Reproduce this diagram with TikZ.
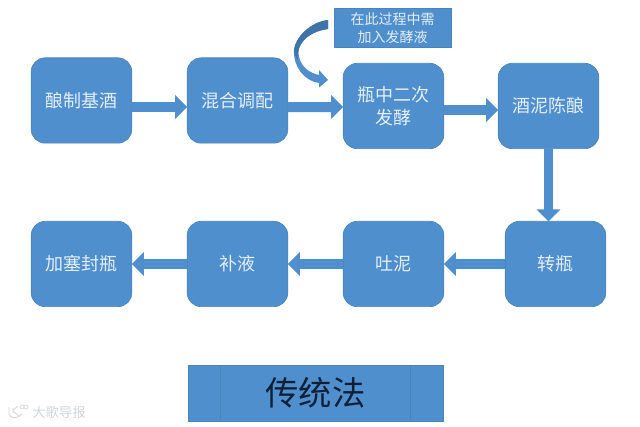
\documentclass[tikz,border=0pt]{standalone}
\usepackage{fontspec}
\setmainfont{Noto Sans CJK SC}
\usetikzlibrary{arrows.meta}
\definecolor{boxblue}{HTML}{4F8FCD}
\definecolor{boxedge}{HTML}{4A84BC}
\definecolor{arrowdark}{HTML}{3F74A8}
\definecolor{boxtext}{HTML}{E4EEF7}
\definecolor{titletext}{HTML}{0E2038}
\definecolor{markgrey}{HTML}{D2D5D8}
\tikzset{
  x=0.75pt,y=-0.75pt,
  stepbox/.style={draw=boxedge,fill=boxblue,rounded corners=10.5pt,line width=0.5pt,
    minimum width=75.5pt,minimum height=64pt,inner sep=0pt,outer sep=0pt,
    text=boxtext,font=\fontsize{13.5pt}{17pt}\selectfont,align=center},
  flowarrow/.style={draw=boxblue,line width=7.5pt,
    -{Triangle[length=9pt,width=17.5pt,fill=boxblue]}},
  thinarrow/.style={flowarrow,line width=7pt},
  notebox/.style={draw=boxedge,fill=boxblue,minimum width=87.5pt,minimum height=29pt,inner sep=0pt,
    text=boxtext,font=\fontsize{10.5pt}{13.5pt}\selectfont,align=center},
  titlebox/.style={draw=boxedge,fill=boxblue,minimum width=191pt,minimum height=42pt,inner sep=0pt,
    text=titletext,font=\fontsize{25pt}{28pt}\selectfont},
}
\begin{document}
\begin{tikzpicture}
\useasboundingbox (0,0) rectangle (640,427);
\fill[white] (0,0) rectangle (640,427);
\node[stepbox] (a1) at (81.5,100.5) {酿制基酒};
\node[stepbox] (a2) at (237.5,100.5) {混合调配};
\node[stepbox] (a3) at (393.5,106) {瓶中二次\\发酵};
\node[stepbox] (a4) at (548.5,106) {酒泥陈酿};
\node[stepbox] (b1) at (555.5,264) {转瓶};
\node[stepbox] (b2) at (393.5,264) {吐泥};
\node[stepbox] (b3) at (237.5,264) {补液};
\node[stepbox] (b4) at (81.5,264) {加塞封瓶};
\node[notebox] (note) at (392.5,28) {在此过程中需\\加入发酵液};
\node[titlebox] (title) at (315.5,393) {传统法};
\draw[boxedge] (220,365.5) -- (220,420.5) (410,365.5) -- (410,420.5);
\draw[flowarrow] ([yshift=-4.9pt]a1.east) -- ([yshift=-4.9pt]a2.west);
\draw[flowarrow] ([yshift=-4.9pt]a2.east) -- ([yshift=-0.75pt]a3.west);
\draw[flowarrow] ([yshift=-3pt]a3.east) -- ([yshift=-3pt]a4.west);
\draw[thinarrow] (a4.south) -- (a4.south |- b1.north);
\draw[thinarrow] (b1.west) -- (b2.east);
\draw[thinarrow] (b2.west) -- (b3.east);
\draw[thinarrow] (b3.west) -- (b4.east);
% curved arrow
\coordinate (bendtip) at (328,80);
\fill[boxblue] (328,29) .. controls (306,32) and (296,46) .. (299,57)
  .. controls (302,68) and (310,73) .. (319,75) -- (319,70) -- (bendtip)
  -- (319,87.5) -- (319,83) .. controls (304,81) and (293,66) .. (294,50)
  .. controls (295,38) and (310,22) .. (328,20) -- cycle;
\fill[arrowdark] (328,20) .. controls (310,22) and (295,38) .. (294,50)
  .. controls (295,55) and (296,58) .. (298,60)
  .. controls (295,46) and (306,32) .. (328,29) -- cycle;
\node[text=markgrey,font=\fontsize{10pt}{12pt}\selectfont,anchor=west,inner sep=0pt] (mark) at (32,412) {大歌导报};
\draw[markgrey,line width=0.7pt] (9,407) -- (9,414) .. controls (10,419) and (18,419) .. (22,414);
\draw[markgrey,line width=0.6pt] (13,408) -- (13,413) (13,410) -- (18,406) (13,411) -- (19,416);
\draw[markgrey,line width=0.5pt] (22,407) circle (2) (26,407) circle (2);
\end{tikzpicture}
\end{document}
